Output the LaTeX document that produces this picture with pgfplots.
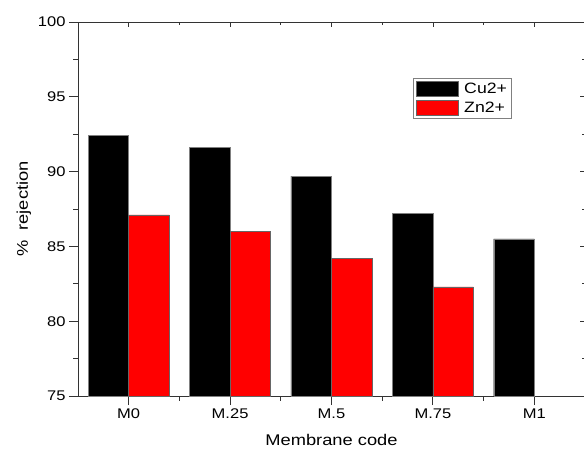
\documentclass[border=0pt]{standalone}
\usepackage{pgfplots}
\pgfplotsset{compat=1.18}
\usepackage{fontspec}
\setmainfont{Liberation Sans}[FakeStretch=1.18]
\begin{document}
\begin{tikzpicture}
\useasboundingbox (-78pt,-52pt) rectangle (506pt,396pt);
\begin{axis}[
  scale only axis, width=507pt, height=374pt,
  at={(0,0)}, anchor=south west,
  xmin=-0.5, xmax=4.5, ymin=75, ymax=100,
  xtick={0,1,2,3,4}, xticklabels={M0,M.25,M.5,M.75,M1},
  minor x tick num=1,
  ytick={75,80,...,100}, minor y tick num=1,
  xtick pos=left, ytick pos=left, tick align=outside,
  major tick length=9pt, minor tick length=4.5pt,
  tick style={black!80, line width=0.8pt},
  axis line style={black!80, line width=0.8pt},
  /pgf/number format/assume math mode=true,
  tick label style={font=\fontsize{14}{16}\selectfont},
  label style={font=\fontsize{15.5}{18}\selectfont},
  xlabel={Membrane code},
  xlabel style={at={(axis description cs:0.5,0)}, anchor=base, yshift=-49pt},
  ylabel={\%\ \ rejection},
  legend style={at={(0.661,0.85)}, anchor=north west, draw=black!50,
    font=\fontsize{15}{17}\selectfont, inner sep=2.5pt, row sep=3pt,
    cells={anchor=west}},
]
\addplot[ybar, bar width=0.4, bar shift=0pt, fill=black, draw=black!50,
  legend image code/.code={\draw[fill=black, draw=black!60] (0pt,-7.5pt) rectangle (42pt,7.5pt); \path (46pt,0pt);}]
  coordinates {(-0.2,92.4) (0.8,91.6) (1.8,89.7) (2.8,87.2) (3.8,85.5)};
\addlegendentry{Cu2+}
\addplot[ybar, bar width=0.4, bar shift=0pt, fill=red, draw=black!60,
  legend image code/.code={\draw[fill=red, draw=black!60] (0pt,-7.5pt) rectangle (42pt,7.5pt); \path (46pt,0pt);}]
  coordinates {(0.2,87.1) (1.2,86.0) (2.2,84.2) (3.2,82.3)};
\addlegendentry{Zn2+}
\end{axis}
\begin{axis}[
  scale only axis, width=507pt, height=374pt,
  at={(0,0)}, anchor=south west,
  xmin=-0.5, xmax=4.5, ymin=75, ymax=100,
  xtick={0,1,2,3,4}, minor x tick num=1,
  ytick={75,80,...,100}, minor y tick num=1,
  xtick pos=right, ytick pos=right, tick align=inside,
  xticklabels={}, yticklabels={},
  major tick length=5pt, minor tick length=3pt,
  tick style={black!80, line width=0.8pt},
  axis line style={draw=none},
]
\end{axis}
\end{tikzpicture}
\end{document}
